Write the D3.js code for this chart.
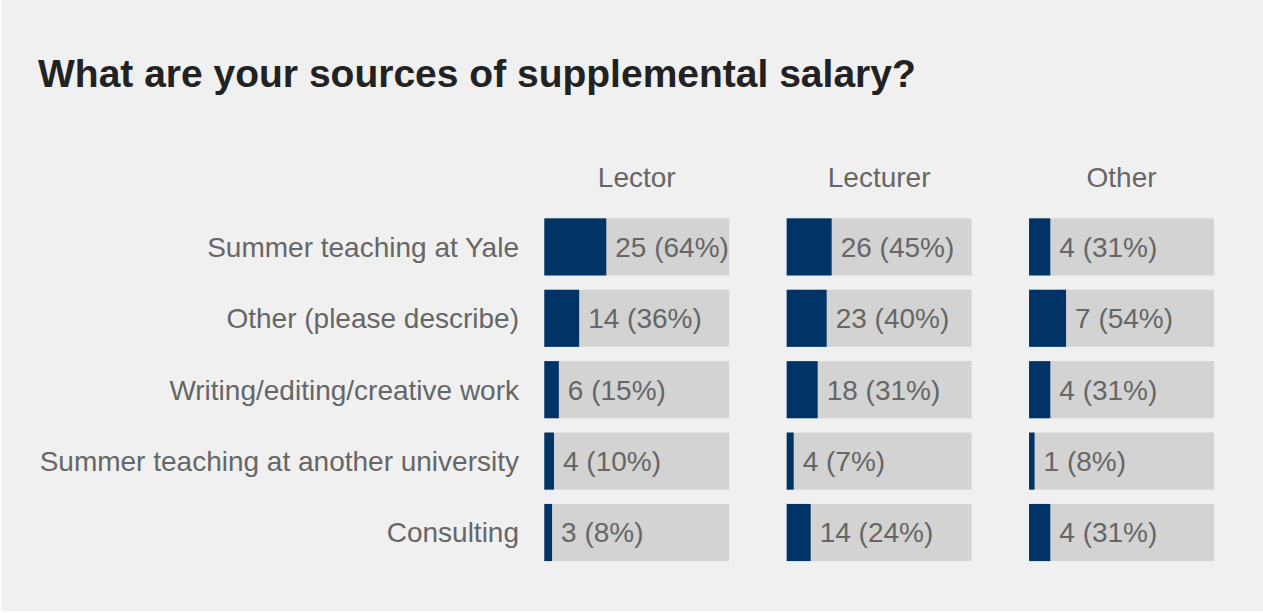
<!DOCTYPE html>
<html>
<head>
<meta charset="utf-8">
<script src="https://cdn.jsdelivr.net/npm/d3@7"></script>
<style>
  html, body { margin: 0; padding: 0; background: #ffffff; }
  svg { display: block; }
  text { font-family: "Liberation Sans", Arial, sans-serif; }
</style>
</head>
<body>
<script>
const title = "What are your sources of supplemental salary?";
const categories = [
  "Summer teaching at Yale",
  "Other (please describe)",
  "Writing/editing/creative work",
  "Summer teaching at another university",
  "Consulting"
];
const groups = ["Lector", "Lecturer", "Other"];
const lectorCounts   = [25, 14, 6, 4, 3];
const lectorPct      = [64, 36, 15, 10, 8];
const lecturerCounts = [26, 23, 18, 4, 14];
const lecturerPct    = [45, 40, 31, 7, 24];
const otherCounts    = [4, 7, 4, 1, 4];
const otherPct       = [31, 54, 31, 8, 31];
// per-panel scale maximum (percent) that spans the full grey track
const panelMax = [191, 185, 270];

const counts = [lectorCounts, lecturerCounts, otherCounts];
const pcts = [lectorPct, lecturerPct, otherPct];

const W = 1263, H = 613;
const svg = d3.select("body").append("svg").attr("width", W).attr("height", H);

svg.append("rect").attr("x", 1).attr("y", 0).attr("width", W - 1).attr("height", H - 2)
  .attr("fill", "#f0f0f0");

svg.append("text").attr("x", 38).attr("y", 87)
  .attr("font-size", 39).attr("font-weight", "bold").attr("fill", "#222222")
  .text(title);

const y = d3.scaleBand().domain(categories).range([211.2, 568.2]).paddingInner(0.2).paddingOuter(0.1);
const panelX = d3.scaleBand().domain(groups).range([544.3, 1214]).paddingInner(0.237).paddingOuter(0);

// row labels
svg.append("g").selectAll("text").data(categories).join("text")
  .attr("x", 519)
  .attr("y", d => y(d) + y.bandwidth() / 2)
  .attr("dy", "0.35em")
  .attr("text-anchor", "end")
  .attr("font-size", 28)
  .attr("fill", "#666666")
  .text(d => d);

groups.forEach((g, gi) => {
  const x0 = panelX(g);
  const x = d3.scaleLinear().domain([0, panelMax[gi]]).range([0, panelX.bandwidth()]);
  const gg = svg.append("g").attr("transform", `translate(${x0},0)`);

  gg.append("text")
    .attr("x", panelX.bandwidth() / 2)
    .attr("y", 177)
    .attr("dy", "0.35em")
    .attr("text-anchor", "middle")
    .attr("font-size", 28)
    .attr("fill", "#666666")
    .text(g);

  const rows = categories.map((c, i) => ({ c, n: counts[gi][i], p: pcts[gi][i] }));

  gg.selectAll("rect.track").data(rows).join("rect")
    .attr("class", "track")
    .attr("x", 0)
    .attr("y", d => y(d.c))
    .attr("width", x(panelMax[gi]))
    .attr("height", y.bandwidth())
    .attr("fill", "#d3d3d3");

  gg.selectAll("rect.bar").data(rows).join("rect")
    .attr("class", "bar")
    .attr("x", 0)
    .attr("y", d => y(d.c))
    .attr("width", d => x(d.p))
    .attr("height", y.bandwidth())
    .attr("fill", "#003366");

  gg.selectAll("text.val").data(rows).join("text")
    .attr("class", "val")
    .attr("x", d => x(d.p) + 9)
    .attr("y", d => y(d.c) + y.bandwidth() / 2)
    .attr("dy", "0.35em")
    .attr("font-size", 28)
    .attr("fill", "#666666")
    .text(d => `${d.n} (${d.p}%)`);
});
</script>
</body>
</html>
